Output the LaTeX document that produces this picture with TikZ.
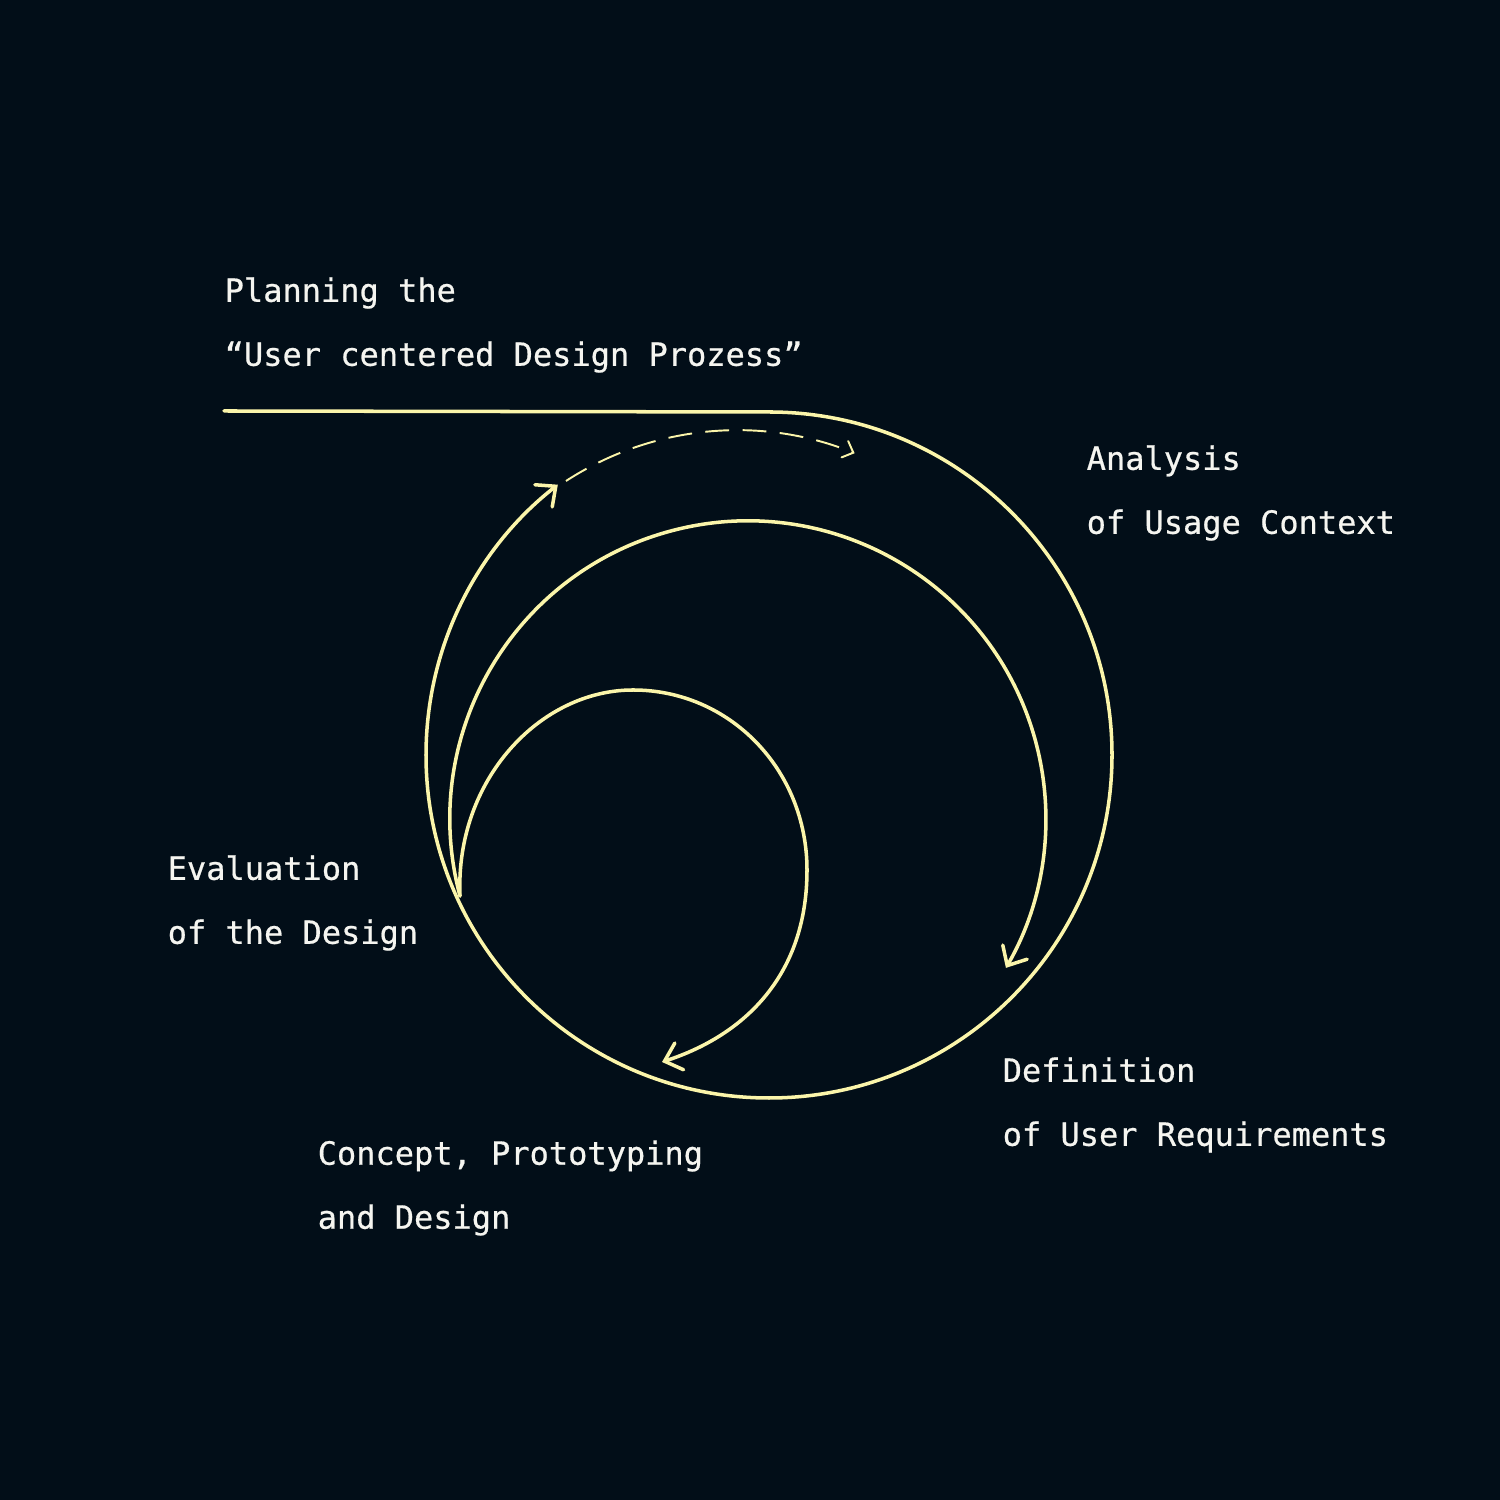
\documentclass[tikz,border=0pt]{standalone}
\usepackage{fontspec}
\newfontfamily\plexish[FakeBold=0.6]{DejaVu Sans Mono}
\usetikzlibrary{arrows.meta}
\definecolor{night}{HTML}{020E18}
\definecolor{lemon}{HTML}{FBF5AA}
\definecolor{chalk}{HTML}{F5F5F0}
\tikzset{
  phase/.style={anchor=west, inner sep=0pt, align=left, text=chalk,
    font=\plexish\fontsize{9.1}{18.2}\selectfont},
  loop/.style={draw=lemon, line width=1pt, line cap=round,
    -{Straight Barb[length=4.4pt,width=8pt,line cap=round]}},
  hint/.style={draw=lemon, line width=0.55pt, dash pattern=on 6.8pt off 3.8pt,
    -{Straight Barb[length=2.6pt,width=5pt,line cap=round]}}
}
\begin{document}
\begin{tikzpicture}[x=0.01cm,y=0.01cm]
      \fill[night] (0,0) rectangle (1500,1500);
      \draw
        (224,1175) node[phase] (plan){Planning the\\“User centered Design Prozess”}
        (1086,1007) node[phase] (analysis){Analysis\\of Usage Context}
        (1002,395) node[phase] (definition){Definition\\of User Requirements}
        (317,312) node[phase] (concept){Concept, Prototyping\\and Design}
        (167,597) node[phase] (evaluation){Evaluation\\of the Design};
      \coordinate (start) at (224,1089);
      \coordinate (top) at (769,1088);
      \coordinate (merge) at (460,604);
      \coordinate (crest) at (633,810);
      \coordinate (bulge) at (807,630);
      \begin{scope}
        \draw[loop] (start) -- (top) arc[start angle=90, end angle=-232, radius=343];
        \draw[loop] (merge) arc[start angle=195, end angle=-30, radius=298];
        \draw[loop] (merge) .. controls (455,720) and (540,810) .. (crest)
          .. controls (730,810) and (807,730) .. (bulge)
          .. controls (807,525) and (745,465) .. (662,438);
        \draw[hint] (566,1019) arc[start angle=123, end angle=68, radius=314];
      \end{scope}
    \end{tikzpicture}
\end{document}
